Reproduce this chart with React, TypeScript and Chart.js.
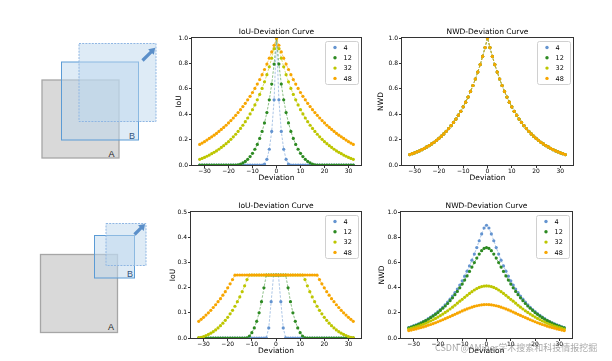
import React, { useEffect, useRef } from 'react';
import { Chart, registerables } from 'chart.js';

Chart.register(...registerables);
Chart.defaults.font.family = 'DejaVu Sans';

// ---------------- data ----------------
const deviation = [
  -32, -31, -30, -29, -28, -27, -26, -25, -24, -23, -22, -21, -20, -19, -18, -17,
  -16, -15, -14, -13, -12, -11, -10, -9, -8, -7, -6, -5, -4, -3, -2, -1,
  0,
  1, 2, 3, 4, 5, 6, 7, 8, 9, 10, 11, 12, 13, 14, 15, 16,
  17, 18, 19, 20, 21, 22, 23, 24, 25, 26, 27, 28, 29, 30, 31, 32,
];

const xTickValues = [-30, -20, -10, 0, 10, 20, 30];
const yTicksUnit = [0, 0.2, 0.4, 0.6, 0.8, 1.0];
const yTicksHalf = [0, 0.1, 0.2, 0.3, 0.4, 0.5];
const seriesLabels = ['4', '12', '32', '48'];

// top row: IoU, boxes of equal size
const iouSame4 = [
  0, 0, 0, 0, 0, 0, 0, 0, 0, 0, 0, 0, 0, 0, 0, 0,
  0, 0, 0, 0, 0, 0, 0, 0, 0, 0, 0, 0.007, 0.045, 0.124, 0.264, 0.513,
  1,
  0.513, 0.264, 0.124, 0.045, 0.007, 0, 0, 0, 0, 0, 0, 0, 0, 0, 0, 0,
  0, 0, 0, 0, 0, 0, 0, 0, 0, 0, 0, 0, 0, 0, 0, 0,
];
const iouSame12 = [
  0, 0, 0, 0, 0, 0, 0, 0, 0, 0, 0, 0, 0, 0, 0, 0,
  0.002, 0.007, 0.016, 0.028, 0.045, 0.066, 0.092, 0.124, 0.162, 0.209, 0.264, 0.331, 0.413, 0.513, 0.637, 0.795,
  1,
  0.795, 0.637, 0.513, 0.413, 0.331, 0.264, 0.209, 0.162, 0.124, 0.092, 0.066, 0.045, 0.028, 0.016, 0.007, 0.002,
  0, 0, 0, 0, 0, 0, 0, 0, 0, 0, 0, 0, 0, 0, 0, 0,
];
const iouSame32 = [
  0.045, 0.052, 0.060, 0.069, 0.078, 0.089, 0.100, 0.111, 0.124, 0.138, 0.152, 0.168, 0.184, 0.202, 0.222, 0.242,
  0.264, 0.288, 0.313, 0.341, 0.370, 0.402, 0.436, 0.473, 0.513, 0.556, 0.603, 0.655, 0.711, 0.773, 0.841, 0.916,
  1,
  0.916, 0.841, 0.773, 0.711, 0.655, 0.603, 0.556, 0.513, 0.473, 0.436, 0.402, 0.370, 0.341, 0.313, 0.288, 0.264,
  0.242, 0.222, 0.202, 0.184, 0.168, 0.152, 0.138, 0.124, 0.111, 0.100, 0.089, 0.078, 0.069, 0.060, 0.052, 0.045,
];
const iouSame48 = [
  0.162, 0.173, 0.184, 0.196, 0.209, 0.222, 0.235, 0.249, 0.264, 0.280, 0.296, 0.313, 0.331, 0.350, 0.370, 0.391,
  0.413, 0.436, 0.460, 0.486, 0.513, 0.541, 0.571, 0.603, 0.637, 0.673, 0.711, 0.752, 0.795, 0.841, 0.890, 0.943,
  1,
  0.943, 0.890, 0.841, 0.795, 0.752, 0.711, 0.673, 0.637, 0.603, 0.571, 0.541, 0.513, 0.486, 0.460, 0.436, 0.413,
  0.391, 0.370, 0.350, 0.331, 0.313, 0.296, 0.280, 0.264, 0.249, 0.235, 0.222, 0.209, 0.196, 0.184, 0.173, 0.162,
];

// top row: NWD, identical for all four sizes
const nwdSame = [
  0.082, 0.089, 0.096, 0.104, 0.112, 0.121, 0.131, 0.142, 0.153, 0.166, 0.179, 0.194, 0.210, 0.227, 0.245, 0.265,
  0.287, 0.310, 0.335, 0.362, 0.392, 0.423, 0.458, 0.495, 0.535, 0.579, 0.626, 0.677, 0.732, 0.791, 0.855, 0.925,
  1,
  0.925, 0.855, 0.791, 0.732, 0.677, 0.626, 0.579, 0.535, 0.495, 0.458, 0.423, 0.392, 0.362, 0.335, 0.310, 0.287,
  0.265, 0.245, 0.227, 0.210, 0.194, 0.179, 0.166, 0.153, 0.142, 0.131, 0.121, 0.112, 0.104, 0.096, 0.089, 0.082,
];

// bottom row: IoU, B half the size of A
const iouHalf4 = [
  0, 0, 0, 0, 0, 0, 0, 0, 0, 0, 0, 0, 0, 0, 0, 0,
  0, 0, 0, 0, 0, 0, 0, 0, 0, 0, 0, 0, 0.001, 0.040, 0.144, 0.25,
  0.25,
  0.25, 0.144, 0.040, 0.001, 0, 0, 0, 0, 0, 0, 0, 0, 0, 0, 0, 0,
  0, 0, 0, 0, 0, 0, 0, 0, 0, 0, 0, 0, 0, 0, 0, 0,
];
const iouHalf12 = [
  0, 0, 0, 0, 0, 0, 0, 0, 0, 0, 0, 0, 0, 0, 0, 0,
  0, 0, 0, 0, 0.001, 0.008, 0.021, 0.040, 0.066, 0.100, 0.144, 0.199, 0.25, 0.25, 0.25, 0.25,
  0.25,
  0.25, 0.25, 0.25, 0.25, 0.199, 0.144, 0.100, 0.066, 0.040, 0.021, 0.008, 0.001, 0, 0, 0, 0,
  0, 0, 0, 0, 0, 0, 0, 0, 0, 0, 0, 0, 0, 0, 0, 0,
];
const iouHalf32 = [
  0.0015, 0.003, 0.006, 0.010, 0.014, 0.019, 0.025, 0.032, 0.040, 0.049, 0.059, 0.070, 0.082, 0.096, 0.110, 0.126,
  0.144, 0.163, 0.184, 0.207, 0.232, 0.25, 0.25, 0.25, 0.25, 0.25, 0.25, 0.25, 0.25, 0.25, 0.25, 0.25,
  0.25,
  0.25, 0.25, 0.25, 0.25, 0.25, 0.25, 0.25, 0.25, 0.25, 0.25, 0.25, 0.232, 0.207, 0.184, 0.163, 0.144,
  0.126, 0.110, 0.096, 0.082, 0.070, 0.059, 0.049, 0.040, 0.032, 0.025, 0.019, 0.014, 0.010, 0.006, 0.003, 0.0015,
];
const iouHalf48 = [
  0.066, 0.074, 0.082, 0.091, 0.100, 0.110, 0.121, 0.132, 0.144, 0.156, 0.170, 0.184, 0.199, 0.215, 0.232, 0.2495,
  0.25, 0.25, 0.25, 0.25, 0.25, 0.25, 0.25, 0.25, 0.25, 0.25, 0.25, 0.25, 0.25, 0.25, 0.25, 0.25,
  0.25,
  0.25, 0.25, 0.25, 0.25, 0.25, 0.25, 0.25, 0.25, 0.25, 0.25, 0.25, 0.25, 0.25, 0.25, 0.25, 0.25,
  0.2495, 0.232, 0.215, 0.199, 0.184, 0.170, 0.156, 0.144, 0.132, 0.121, 0.110, 0.100, 0.091, 0.082, 0.074, 0.066,
];

// bottom row: NWD, B half the size of A
const nwdHalf4 = [
  0.082, 0.089, 0.096, 0.104, 0.112, 0.121, 0.131, 0.141, 0.153, 0.165, 0.179, 0.193, 0.209, 0.226, 0.244, 0.264,
  0.285, 0.308, 0.333, 0.360, 0.389, 0.420, 0.454, 0.491, 0.530, 0.572, 0.618, 0.666, 0.718, 0.772, 0.826, 0.873,
  0.895,
  0.873, 0.826, 0.772, 0.718, 0.666, 0.618, 0.572, 0.530, 0.491, 0.454, 0.420, 0.389, 0.360, 0.333, 0.308, 0.285,
  0.264, 0.244, 0.226, 0.209, 0.193, 0.179, 0.165, 0.153, 0.141, 0.131, 0.121, 0.112, 0.104, 0.096, 0.089, 0.082,
];
const nwdHalf12 = [
  0.080, 0.087, 0.094, 0.101, 0.109, 0.118, 0.128, 0.138, 0.149, 0.161, 0.174, 0.188, 0.202, 0.219, 0.236, 0.254,
  0.274, 0.296, 0.319, 0.344, 0.370, 0.398, 0.428, 0.460, 0.493, 0.528, 0.563, 0.599, 0.634, 0.666, 0.693, 0.711,
  0.718,
  0.711, 0.693, 0.666, 0.634, 0.599, 0.563, 0.528, 0.493, 0.460, 0.428, 0.398, 0.370, 0.344, 0.319, 0.296, 0.274,
  0.254, 0.236, 0.219, 0.202, 0.188, 0.174, 0.161, 0.149, 0.138, 0.128, 0.118, 0.109, 0.101, 0.094, 0.087, 0.080,
];
const nwdHalf32 = [
  0.071, 0.076, 0.082, 0.088, 0.095, 0.102, 0.109, 0.117, 0.126, 0.135, 0.145, 0.155, 0.166, 0.178, 0.190, 0.203,
  0.216, 0.230, 0.245, 0.260, 0.276, 0.292, 0.307, 0.323, 0.339, 0.354, 0.368, 0.381, 0.392, 0.401, 0.408, 0.412,
  0.413,
  0.412, 0.408, 0.401, 0.392, 0.381, 0.368, 0.354, 0.339, 0.323, 0.307, 0.292, 0.276, 0.260, 0.245, 0.230, 0.216,
  0.203, 0.190, 0.178, 0.166, 0.155, 0.145, 0.135, 0.126, 0.117, 0.109, 0.102, 0.095, 0.088, 0.082, 0.076, 0.071,
];
const nwdHalf48 = [
  0.059, 0.063, 0.068, 0.072, 0.078, 0.083, 0.088, 0.094, 0.101, 0.107, 0.114, 0.121, 0.129, 0.137, 0.145, 0.153,
  0.162, 0.170, 0.179, 0.188, 0.197, 0.206, 0.215, 0.223, 0.231, 0.238, 0.245, 0.251, 0.256, 0.260, 0.263, 0.265,
  0.266,
  0.265, 0.263, 0.260, 0.256, 0.251, 0.245, 0.238, 0.231, 0.223, 0.215, 0.206, 0.197, 0.188, 0.179, 0.170, 0.162,
  0.153, 0.145, 0.137, 0.129, 0.121, 0.114, 0.107, 0.101, 0.094, 0.088, 0.083, 0.078, 0.072, 0.068, 0.063, 0.059,
];

// ---------------- styles ----------------
const pointColors = ['#6494d0', '#2d8a22', '#bdc600', '#f7a600'];
const lineColors = ['rgba(100,148,208,0.6)', 'rgba(45,138,34,0.6)', 'rgba(189,198,0,0.6)', 'rgba(247,166,0,0.6)'];
const FONT = 'DejaVu Sans';

type Panel = {
  key: string; left: number; top: number; width: number; height: number;
  yAxisWidth: number; title: string; yTitle: string; yMax: number; yTicks: number[];
  titlePad: { top: number; bottom: number }; series: number[][];
};

const panels: Panel[] = [
  { key: 'tm', left: 175, top: 20, width: 190, height: 163, yAxisWidth: 17, title: 'IoU-Deviation Curve', yTitle: 'IoU',
    yMax: 1, yTicks: yTicksUnit, titlePad: { top: 7.2, bottom: 1.8 }, series: [iouSame4, iouSame12, iouSame32, iouSame48] },
  { key: 'tr', left: 377, top: 20, width: 200, height: 163, yAxisWidth: 25, title: 'NWD-Deviation Curve', yTitle: 'NWD',
    yMax: 1, yTicks: yTicksUnit, titlePad: { top: 7.2, bottom: 1.8 }, series: [nwdSame, nwdSame, nwdSame, nwdSame] },
  { key: 'bm', left: 169, top: 200, width: 196, height: 156, yAxisWidth: 22, title: 'IoU-Deviation Curve', yTitle: 'IoU',
    yMax: 0.5, yTicks: yTicksHalf, titlePad: { top: 2, bottom: 1 }, series: [iouHalf4, iouHalf12, iouHalf32, iouHalf48] },
  { key: 'br', left: 378, top: 200, width: 198, height: 156, yAxisWidth: 23, title: 'NWD-Deviation Curve', yTitle: 'NWD',
    yMax: 1, yTicks: yTicksUnit, titlePad: { top: 2, bottom: 1 }, series: [nwdHalf4, nwdHalf12, nwdHalf32, nwdHalf48] },
];

const frameLegendPlugin = {
  id: 'frameLegend',
  afterDatasetsDraw(chart: any) {
    const { ctx, chartArea: a } = chart;
    ctx.save();
    // frame (all four spines)
    const l = Math.round(a.left) - 0.5, t = Math.round(a.top) - 0.5;
    const r = Math.round(a.right) + 0.5, b = Math.round(a.bottom) + 0.5;
    ctx.strokeStyle = '#333';
    ctx.lineWidth = 1;
    ctx.strokeRect(l, t, r - l, b - t);
    // legend inside upper right
    const w = 33, h = 43;
    const bx = Math.round(a.right) - 3 - w + 0.5, by = Math.round(a.top) + 3 + 0.5;
    ctx.beginPath();
    (ctx as any).roundRect(bx, by, w, h, 2);
    ctx.fillStyle = 'rgba(255,255,255,0.85)';
    ctx.fill();
    ctx.strokeStyle = '#d0d0d0';
    ctx.lineWidth = 1;
    ctx.stroke();
    ctx.font = `6.5px "${FONT}"`;
    ctx.textBaseline = 'middle';
    ctx.textAlign = 'left';
    chart.data.datasets.forEach((ds: any, i: number) => {
      const cy = by + 6 + i * 10.3;
      ctx.beginPath();
      ctx.arc(bx + 9.5, cy, 1.7, 0, Math.PI * 2);
      ctx.fillStyle = ds.pointBackgroundColor;
      ctx.fill();
      ctx.fillStyle = '#000';
      ctx.fillText(ds.label, bx + 18, cy + 0.5);
    });
    ctx.restore();
  },
};

const fmtX = (v: number) => (v < 0 ? '\u2212' + Math.abs(v) : String(v));

function ChartPanel({ p }: { p: Panel }) {
  const ref = useRef<HTMLCanvasElement | null>(null);
  useEffect(() => {
    if (!ref.current) return;
    const chart = new Chart(ref.current, {
      type: 'line',
      data: {
        datasets: p.series.map((arr, i) => ({
          label: seriesLabels[i],
          data: deviation.map((x, j) => ({ x, y: arr[j] })),
          borderColor: lineColors[i],
          borderWidth: 0.9,
          borderDash: [2.5, 1.5],
          pointRadius: 1.6,
          pointBorderWidth: 0,
          pointBackgroundColor: pointColors[i],
          pointBorderColor: pointColors[i],
          tension: 0,
          fill: false,
          order: 3 - i,
        })),
      },
      options: {
        animation: false,
        responsive: false,
        events: [],
        layout: { padding: { left: 0, right: 4, top: 0, bottom: 0 } },
        plugins: {
          legend: { display: false },
          tooltip: { enabled: false },
          title: {
            display: true, text: p.title, fullSize: false, color: '#000',
            font: { size: 7.5, weight: 'normal', family: FONT }, padding: p.titlePad,
          },
        },
        scales: {
          x: {
            type: 'linear', min: -35.2, max: 35.2,
            afterBuildTicks: (s: any) => { s.ticks = xTickValues.map((v) => ({ value: v })); },
            afterFit: (s: any) => { s.height = 18; },
            ticks: { font: { size: 6, family: FONT }, color: '#000', padding: 0, maxRotation: 0, autoSkip: false,
              callback: (v: any) => fmtX(Number(v)) },
            grid: { drawOnChartArea: false, drawTicks: true, tickLength: 3, color: '#333' },
            border: { display: false },
            title: { display: true, text: 'Deviation', color: '#000', font: { size: 7.5, family: FONT }, padding: 0 },
          },
          y: {
            type: 'linear', min: 0, max: p.yMax,
            afterBuildTicks: (s: any) => { s.ticks = p.yTicks.map((v) => ({ value: v })); },
            afterFit: (s: any) => { s.width = p.yAxisWidth; },
            ticks: { font: { size: 6, family: FONT }, color: '#000', padding: 1, autoSkip: false,
              callback: (v: any) => Number(v).toFixed(1) },
            grid: { drawOnChartArea: false, drawTicks: true, tickLength: 3, color: '#333' },
            border: { display: false },
            title: { display: true, text: p.yTitle, color: '#000', font: { size: 7.5, family: FONT }, padding: 0 },
          },
        },
      } as any,
      plugins: [frameLegendPlugin],
    });
    return () => chart.destroy();
  }, [p]);
  return (
    <canvas
      ref={ref}
      width={p.width}
      height={p.height}
      style={{ position: 'absolute', left: p.left, top: p.top, width: p.width, height: p.height }}
    />
  );
}

function Arrow({ x, y, len }: { x: number; y: number; len: number }) {
  const hw = 1.6, hh = 4, hl = 6;
  const d = `M0 ${-hw} L${len - hl} ${-hw} L${len - hl} ${-hh} L${len} 0 L${len - hl} ${hh} L${len - hl} ${hw} L0 ${hw} Z`;
  return <path d={d} fill="#5b8fc9" transform={`translate(${x} ${y}) rotate(-45)`} />;
}

function Diagrams() {
  const blueFill = 'rgba(189,215,238,0.5)';
  return (
    <svg width={612} height={361} style={{ position: 'absolute', left: 0, top: 0 }}>
      {/* top: equal sizes */}
      <rect x={42} y={80} width={77} height={78} fill="#d9d9d9" stroke="#a6a6a6" strokeWidth={1.3} />
      <rect x={61.5} y={62} width={77} height={78} fill={blueFill} stroke="#5b9bd5" strokeWidth={1} />
      <rect x={79} y={43.5} width={77} height={78} fill={blueFill} stroke="#8fb6e3" strokeWidth={1} strokeDasharray="2 1.2" />
      <Arrow x={142.5} y={60.5} len={18} />
      <text x={108.5} y={156.5} fontFamily="Liberation Sans" fontSize={9} fill="#222">A</text>
      <text x={129} y={138.5} fontFamily="Liberation Sans" fontSize={9} fill="#34557f">B</text>
      {/* bottom: B half size */}
      <rect x={40.5} y={254.5} width={77} height={78} fill="#d9d9d9" stroke="#a6a6a6" strokeWidth={1.3} />
      <rect x={94.5} y={235.5} width={40} height={42.5} fill={blueFill} stroke="#5b9bd5" strokeWidth={1} />
      <rect x={106} y={223.5} width={40} height={42} fill={blueFill} stroke="#8fb6e3" strokeWidth={1} strokeDasharray="2 1.2" />
      <Arrow x={134.5} y={234.5} len={15} />
      <text x={108} y={330} fontFamily="Liberation Sans" fontSize={9} fill="#222">A</text>
      <text x={127} y={276.5} fontFamily="Liberation Sans" fontSize={9} fill="#34557f">B</text>
    </svg>
  );
}

export default function App() {
  return (
    <div style={{ position: 'fixed', left: 0, top: 0, width: 612, height: 361, background: '#fff', overflow: 'hidden' }}>
      <Diagrams />
      {panels.map((p) => (
        <ChartPanel key={p.key} p={p} />
      ))}
      <div
        style={{
          position: 'absolute', left: 435, top: 341.5, fontSize: 9, lineHeight: '12px', whiteSpace: 'nowrap',
          fontFamily: '"Noto Sans CJK SC", "DejaVu Sans", sans-serif', color: 'rgba(110,110,110,0.6)',
        }}
      >
        CSDN @AMiner学术搜索和科技情报挖掘
      </div>
    </div>
  );
}
